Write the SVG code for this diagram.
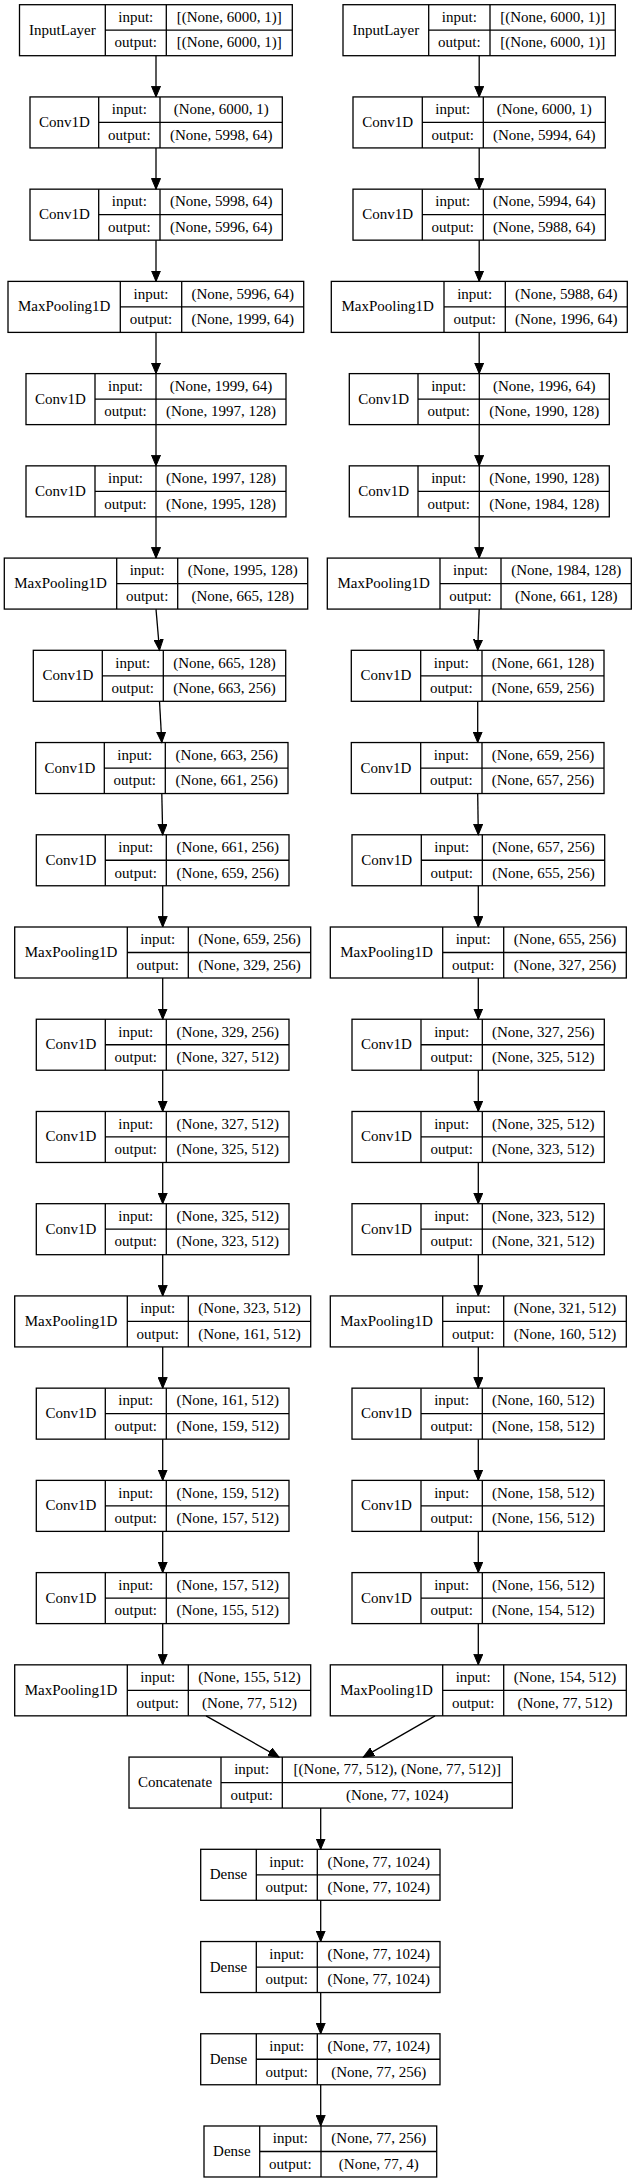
<svg xmlns="http://www.w3.org/2000/svg" width="636" height="2182" viewBox="0 0 636 2182">
<style>
.b{fill:#fff;stroke:#000;stroke-width:1.3}
.s{fill:none;stroke:#000;stroke-width:1.3}
.t{font-family:"Liberation Serif","Times New Roman",serif;font-size:15px;text-anchor:middle;fill:#000}
.e{fill:none;stroke:#000;stroke-width:1.3;marker-end:url(#ah)}
</style>
<defs>
<marker id="ah" markerUnits="userSpaceOnUse" markerWidth="12" markerHeight="10" viewBox="0 -5 12 10" refX="10.7" refY="0" orient="auto">
<path d="M0,-4.5L10.7,0L0,4.5Z" fill="#000" stroke="#000" stroke-width="1"/>
</marker>
</defs>
<rect width="636" height="2182" fill="#fff"/>

<!-- Left column -->
<g id="L0" transform="translate(0,4.7)"><rect class="b" x="19.5" y="0" width="272.8" height="51"/><path class="s" d="M105.3,0V51M166.3,0V51M105.3,25.5H292.3"/><text class="t" x="62.4" y="30">InputLayer</text><text class="t" x="135.8" y="17.3">input:</text><text class="t" x="135.8" y="42.8">output:</text><text class="t" x="229.3" y="17.3">[(None, 6000, 1)]</text><text class="t" x="229.3" y="42.8">[(None, 6000, 1)]</text></g>
<g id="L1" transform="translate(0,96.93)"><rect class="b" x="30" y="0" width="252.3" height="51"/><path class="s" d="M98.7,0V51M160,0V51M98.7,25.5H282.3"/><text class="t" x="64.35" y="30">Conv1D</text><text class="t" x="129.35" y="17.3">input:</text><text class="t" x="129.35" y="42.8">output:</text><text class="t" x="221.15" y="17.3">(None, 6000, 1)</text><text class="t" x="221.15" y="42.8">(None, 5998, 64)</text></g>
<g id="L2" transform="translate(0,189.16)"><rect class="b" x="30" y="0" width="252.3" height="51"/><path class="s" d="M98.7,0V51M160,0V51M98.7,25.5H282.3"/><text class="t" x="64.35" y="30">Conv1D</text><text class="t" x="129.35" y="17.3">input:</text><text class="t" x="129.35" y="42.8">output:</text><text class="t" x="221.15" y="17.3">(None, 5998, 64)</text><text class="t" x="221.15" y="42.8">(None, 5996, 64)</text></g>
<g id="L3" transform="translate(0,281.39)"><rect class="b" x="8" y="0" width="295.7" height="51"/><path class="s" d="M120.3,0V51M181.7,0V51M120.3,25.5H303.7"/><text class="t" x="64.15" y="30">MaxPooling1D</text><text class="t" x="151" y="17.3">input:</text><text class="t" x="151" y="42.8">output:</text><text class="t" x="242.7" y="17.3">(None, 5996, 64)</text><text class="t" x="242.7" y="42.8">(None, 1999, 64)</text></g>
<g id="L4" transform="translate(0,373.62)"><rect class="b" x="26" y="0" width="260" height="51"/><path class="s" d="M95,0V51M156,0V51M95,25.5H286"/><text class="t" x="60.5" y="30">Conv1D</text><text class="t" x="125.5" y="17.3">input:</text><text class="t" x="125.5" y="42.8">output:</text><text class="t" x="221" y="17.3">(None, 1999, 64)</text><text class="t" x="221" y="42.8">(None, 1997, 128)</text></g>
<g id="L5" transform="translate(0,465.85)"><rect class="b" x="26" y="0" width="260" height="51"/><path class="s" d="M95,0V51M156,0V51M95,25.5H286"/><text class="t" x="60.5" y="30">Conv1D</text><text class="t" x="125.5" y="17.3">input:</text><text class="t" x="125.5" y="42.8">output:</text><text class="t" x="221" y="17.3">(None, 1997, 128)</text><text class="t" x="221" y="42.8">(None, 1995, 128)</text></g>
<g id="L6" transform="translate(0,558.08)"><rect class="b" x="4.3" y="0" width="303.4" height="51"/><path class="s" d="M116.7,0V51M177.7,0V51M116.7,25.5H307.7"/><text class="t" x="60.5" y="30">MaxPooling1D</text><text class="t" x="147.2" y="17.3">input:</text><text class="t" x="147.2" y="42.8">output:</text><text class="t" x="242.7" y="17.3">(None, 1995, 128)</text><text class="t" x="242.7" y="42.8">(None, 665, 128)</text></g>
<g id="L7" transform="translate(0,650.31)"><rect class="b" x="33.3" y="0" width="252.4" height="51"/><path class="s" d="M102.3,0V51M163.3,0V51M102.3,25.5H285.7"/><text class="t" x="67.8" y="30">Conv1D</text><text class="t" x="132.8" y="17.3">input:</text><text class="t" x="132.8" y="42.8">output:</text><text class="t" x="224.5" y="17.3">(None, 665, 128)</text><text class="t" x="224.5" y="42.8">(None, 663, 256)</text></g>
<g id="L8" transform="translate(0,742.54)"><rect class="b" x="35.7" y="0" width="252.3" height="51"/><path class="s" d="M104.3,0V51M165.3,0V51M104.3,25.5H288"/><text class="t" x="70" y="30">Conv1D</text><text class="t" x="134.8" y="17.3">input:</text><text class="t" x="134.8" y="42.8">output:</text><text class="t" x="226.65" y="17.3">(None, 663, 256)</text><text class="t" x="226.65" y="42.8">(None, 661, 256)</text></g>
<g id="L9" transform="translate(0,834.77)"><rect class="b" x="36.3" y="0" width="252.7" height="51"/><path class="s" d="M105.3,0V51M166.3,0V51M105.3,25.5H289"/><text class="t" x="70.8" y="30">Conv1D</text><text class="t" x="135.8" y="17.3">input:</text><text class="t" x="135.8" y="42.8">output:</text><text class="t" x="227.65" y="17.3">(None, 661, 256)</text><text class="t" x="227.65" y="42.8">(None, 659, 256)</text></g>
<g id="L10" transform="translate(0,927)"><rect class="b" x="14.7" y="0" width="296" height="51"/><path class="s" d="M127.3,0V51M188.3,0V51M127.3,25.5H310.7"/><text class="t" x="71" y="30">MaxPooling1D</text><text class="t" x="157.8" y="17.3">input:</text><text class="t" x="157.8" y="42.8">output:</text><text class="t" x="249.5" y="17.3">(None, 659, 256)</text><text class="t" x="249.5" y="42.8">(None, 329, 256)</text></g>
<g id="L11" transform="translate(0,1019.23)"><rect class="b" x="36.3" y="0" width="252.7" height="51"/><path class="s" d="M105.3,0V51M166.3,0V51M105.3,25.5H289"/><text class="t" x="70.8" y="30">Conv1D</text><text class="t" x="135.8" y="17.3">input:</text><text class="t" x="135.8" y="42.8">output:</text><text class="t" x="227.65" y="17.3">(None, 329, 256)</text><text class="t" x="227.65" y="42.8">(None, 327, 512)</text></g>
<g id="L12" transform="translate(0,1111.46)"><rect class="b" x="36.3" y="0" width="252.7" height="51"/><path class="s" d="M105.3,0V51M166.3,0V51M105.3,25.5H289"/><text class="t" x="70.8" y="30">Conv1D</text><text class="t" x="135.8" y="17.3">input:</text><text class="t" x="135.8" y="42.8">output:</text><text class="t" x="227.65" y="17.3">(None, 327, 512)</text><text class="t" x="227.65" y="42.8">(None, 325, 512)</text></g>
<g id="L13" transform="translate(0,1203.69)"><rect class="b" x="36.3" y="0" width="252.7" height="51"/><path class="s" d="M105.3,0V51M166.3,0V51M105.3,25.5H289"/><text class="t" x="70.8" y="30">Conv1D</text><text class="t" x="135.8" y="17.3">input:</text><text class="t" x="135.8" y="42.8">output:</text><text class="t" x="227.65" y="17.3">(None, 325, 512)</text><text class="t" x="227.65" y="42.8">(None, 323, 512)</text></g>
<g id="L14" transform="translate(0,1295.92)"><rect class="b" x="14.7" y="0" width="296" height="51"/><path class="s" d="M127.3,0V51M188.3,0V51M127.3,25.5H310.7"/><text class="t" x="71" y="30">MaxPooling1D</text><text class="t" x="157.8" y="17.3">input:</text><text class="t" x="157.8" y="42.8">output:</text><text class="t" x="249.5" y="17.3">(None, 323, 512)</text><text class="t" x="249.5" y="42.8">(None, 161, 512)</text></g>
<g id="L15" transform="translate(0,1388.15)"><rect class="b" x="36.3" y="0" width="252.7" height="51"/><path class="s" d="M105.3,0V51M166.3,0V51M105.3,25.5H289"/><text class="t" x="70.8" y="30">Conv1D</text><text class="t" x="135.8" y="17.3">input:</text><text class="t" x="135.8" y="42.8">output:</text><text class="t" x="227.65" y="17.3">(None, 161, 512)</text><text class="t" x="227.65" y="42.8">(None, 159, 512)</text></g>
<g id="L16" transform="translate(0,1480.38)"><rect class="b" x="36.3" y="0" width="252.7" height="51"/><path class="s" d="M105.3,0V51M166.3,0V51M105.3,25.5H289"/><text class="t" x="70.8" y="30">Conv1D</text><text class="t" x="135.8" y="17.3">input:</text><text class="t" x="135.8" y="42.8">output:</text><text class="t" x="227.65" y="17.3">(None, 159, 512)</text><text class="t" x="227.65" y="42.8">(None, 157, 512)</text></g>
<g id="L17" transform="translate(0,1572.61)"><rect class="b" x="36.3" y="0" width="252.7" height="51"/><path class="s" d="M105.3,0V51M166.3,0V51M105.3,25.5H289"/><text class="t" x="70.8" y="30">Conv1D</text><text class="t" x="135.8" y="17.3">input:</text><text class="t" x="135.8" y="42.8">output:</text><text class="t" x="227.65" y="17.3">(None, 157, 512)</text><text class="t" x="227.65" y="42.8">(None, 155, 512)</text></g>
<g id="L18" transform="translate(0,1664.84)"><rect class="b" x="14.7" y="0" width="296" height="51"/><path class="s" d="M127.3,0V51M188.3,0V51M127.3,25.5H310.7"/><text class="t" x="71" y="30">MaxPooling1D</text><text class="t" x="157.8" y="17.3">input:</text><text class="t" x="157.8" y="42.8">output:</text><text class="t" x="249.5" y="17.3">(None, 155, 512)</text><text class="t" x="249.5" y="42.8">(None, 77, 512)</text></g>

<!-- Right column -->
<g id="R0" transform="translate(0,4.7)"><rect class="b" x="343" y="0" width="272.3" height="51"/><path class="s" d="M428.7,0V51M490,0V51M428.7,25.5H615.3"/><text class="t" x="385.85" y="30">InputLayer</text><text class="t" x="459.35" y="17.3">input:</text><text class="t" x="459.35" y="42.8">output:</text><text class="t" x="552.65" y="17.3">[(None, 6000, 1)]</text><text class="t" x="552.65" y="42.8">[(None, 6000, 1)]</text></g>
<g id="R1" transform="translate(0,96.93)"><rect class="b" x="353" y="0" width="252.3" height="51"/><path class="s" d="M422.3,0V51M483.3,0V51M422.3,25.5H605.3"/><text class="t" x="387.65" y="30">Conv1D</text><text class="t" x="452.8" y="17.3">input:</text><text class="t" x="452.8" y="42.8">output:</text><text class="t" x="544.3" y="17.3">(None, 6000, 1)</text><text class="t" x="544.3" y="42.8">(None, 5994, 64)</text></g>
<g id="R2" transform="translate(0,189.16)"><rect class="b" x="353" y="0" width="252.3" height="51"/><path class="s" d="M422.3,0V51M483.3,0V51M422.3,25.5H605.3"/><text class="t" x="387.65" y="30">Conv1D</text><text class="t" x="452.8" y="17.3">input:</text><text class="t" x="452.8" y="42.8">output:</text><text class="t" x="544.3" y="17.3">(None, 5994, 64)</text><text class="t" x="544.3" y="42.8">(None, 5988, 64)</text></g>
<g id="R3" transform="translate(0,281.39)"><rect class="b" x="331.3" y="0" width="296" height="51"/><path class="s" d="M444,0V51M505.3,0V51M444,25.5H627.3"/><text class="t" x="387.65" y="30">MaxPooling1D</text><text class="t" x="474.65" y="17.3">input:</text><text class="t" x="474.65" y="42.8">output:</text><text class="t" x="566.3" y="17.3">(None, 5988, 64)</text><text class="t" x="566.3" y="42.8">(None, 1996, 64)</text></g>
<g id="R4" transform="translate(0,373.62)"><rect class="b" x="349.3" y="0" width="260" height="51"/><path class="s" d="M418,0V51M479.3,0V51M418,25.5H609.3"/><text class="t" x="383.65" y="30">Conv1D</text><text class="t" x="448.65" y="17.3">input:</text><text class="t" x="448.65" y="42.8">output:</text><text class="t" x="544.3" y="17.3">(None, 1996, 64)</text><text class="t" x="544.3" y="42.8">(None, 1990, 128)</text></g>
<g id="R5" transform="translate(0,465.85)"><rect class="b" x="349.3" y="0" width="260" height="51"/><path class="s" d="M418,0V51M479.3,0V51M418,25.5H609.3"/><text class="t" x="383.65" y="30">Conv1D</text><text class="t" x="448.65" y="17.3">input:</text><text class="t" x="448.65" y="42.8">output:</text><text class="t" x="544.3" y="17.3">(None, 1990, 128)</text><text class="t" x="544.3" y="42.8">(None, 1984, 128)</text></g>
<g id="R6" transform="translate(0,558.08)"><rect class="b" x="327.3" y="0" width="304" height="51"/><path class="s" d="M440,0V51M501,0V51M440,25.5H631.3"/><text class="t" x="383.65" y="30">MaxPooling1D</text><text class="t" x="470.5" y="17.3">input:</text><text class="t" x="470.5" y="42.8">output:</text><text class="t" x="566.15" y="17.3">(None, 1984, 128)</text><text class="t" x="566.15" y="42.8">(None, 661, 128)</text></g>
<g id="R7" transform="translate(0,650.31)"><rect class="b" x="351.3" y="0" width="252.7" height="51"/><path class="s" d="M420.7,0V51M482,0V51M420.7,25.5H604"/><text class="t" x="386" y="30">Conv1D</text><text class="t" x="451.35" y="17.3">input:</text><text class="t" x="451.35" y="42.8">output:</text><text class="t" x="543" y="17.3">(None, 661, 128)</text><text class="t" x="543" y="42.8">(None, 659, 256)</text></g>
<g id="R8" transform="translate(0,742.54)"><rect class="b" x="351.3" y="0" width="252.7" height="51"/><path class="s" d="M420.7,0V51M482,0V51M420.7,25.5H604"/><text class="t" x="386" y="30">Conv1D</text><text class="t" x="451.35" y="17.3">input:</text><text class="t" x="451.35" y="42.8">output:</text><text class="t" x="543" y="17.3">(None, 659, 256)</text><text class="t" x="543" y="42.8">(None, 657, 256)</text></g>
<g id="R9" transform="translate(0,834.77)"><rect class="b" x="352" y="0" width="252.7" height="51"/><path class="s" d="M421.3,0V51M482.3,0V51M421.3,25.5H604.7"/><text class="t" x="386.65" y="30">Conv1D</text><text class="t" x="451.8" y="17.3">input:</text><text class="t" x="451.8" y="42.8">output:</text><text class="t" x="543.5" y="17.3">(None, 657, 256)</text><text class="t" x="543.5" y="42.8">(None, 655, 256)</text></g>
<g id="R10" transform="translate(0,927)"><rect class="b" x="330.3" y="0" width="296" height="51"/><path class="s" d="M442.7,0V51M503.7,0V51M442.7,25.5H626.3"/><text class="t" x="386.5" y="30">MaxPooling1D</text><text class="t" x="473.2" y="17.3">input:</text><text class="t" x="473.2" y="42.8">output:</text><text class="t" x="565" y="17.3">(None, 655, 256)</text><text class="t" x="565" y="42.8">(None, 327, 256)</text></g>
<g id="R11" transform="translate(0,1019.23)"><rect class="b" x="352" y="0" width="252.3" height="51"/><path class="s" d="M421,0V51M482.3,0V51M421,25.5H604.3"/><text class="t" x="386.5" y="30">Conv1D</text><text class="t" x="451.65" y="17.3">input:</text><text class="t" x="451.65" y="42.8">output:</text><text class="t" x="543.3" y="17.3">(None, 327, 256)</text><text class="t" x="543.3" y="42.8">(None, 325, 512)</text></g>
<g id="R12" transform="translate(0,1111.46)"><rect class="b" x="352" y="0" width="252.3" height="51"/><path class="s" d="M421,0V51M482.3,0V51M421,25.5H604.3"/><text class="t" x="386.5" y="30">Conv1D</text><text class="t" x="451.65" y="17.3">input:</text><text class="t" x="451.65" y="42.8">output:</text><text class="t" x="543.3" y="17.3">(None, 325, 512)</text><text class="t" x="543.3" y="42.8">(None, 323, 512)</text></g>
<g id="R13" transform="translate(0,1203.69)"><rect class="b" x="352" y="0" width="252.3" height="51"/><path class="s" d="M421,0V51M482.3,0V51M421,25.5H604.3"/><text class="t" x="386.5" y="30">Conv1D</text><text class="t" x="451.65" y="17.3">input:</text><text class="t" x="451.65" y="42.8">output:</text><text class="t" x="543.3" y="17.3">(None, 323, 512)</text><text class="t" x="543.3" y="42.8">(None, 321, 512)</text></g>
<g id="R14" transform="translate(0,1295.92)"><rect class="b" x="330.3" y="0" width="296" height="51"/><path class="s" d="M442.7,0V51M503.7,0V51M442.7,25.5H626.3"/><text class="t" x="386.5" y="30">MaxPooling1D</text><text class="t" x="473.2" y="17.3">input:</text><text class="t" x="473.2" y="42.8">output:</text><text class="t" x="565" y="17.3">(None, 321, 512)</text><text class="t" x="565" y="42.8">(None, 160, 512)</text></g>
<g id="R15" transform="translate(0,1388.15)"><rect class="b" x="352" y="0" width="252.3" height="51"/><path class="s" d="M421,0V51M482.3,0V51M421,25.5H604.3"/><text class="t" x="386.5" y="30">Conv1D</text><text class="t" x="451.65" y="17.3">input:</text><text class="t" x="451.65" y="42.8">output:</text><text class="t" x="543.3" y="17.3">(None, 160, 512)</text><text class="t" x="543.3" y="42.8">(None, 158, 512)</text></g>
<g id="R16" transform="translate(0,1480.38)"><rect class="b" x="352" y="0" width="252.3" height="51"/><path class="s" d="M421,0V51M482.3,0V51M421,25.5H604.3"/><text class="t" x="386.5" y="30">Conv1D</text><text class="t" x="451.65" y="17.3">input:</text><text class="t" x="451.65" y="42.8">output:</text><text class="t" x="543.3" y="17.3">(None, 158, 512)</text><text class="t" x="543.3" y="42.8">(None, 156, 512)</text></g>
<g id="R17" transform="translate(0,1572.61)"><rect class="b" x="352" y="0" width="252.3" height="51"/><path class="s" d="M421,0V51M482.3,0V51M421,25.5H604.3"/><text class="t" x="386.5" y="30">Conv1D</text><text class="t" x="451.65" y="17.3">input:</text><text class="t" x="451.65" y="42.8">output:</text><text class="t" x="543.3" y="17.3">(None, 156, 512)</text><text class="t" x="543.3" y="42.8">(None, 154, 512)</text></g>
<g id="R18" transform="translate(0,1664.84)"><rect class="b" x="330.3" y="0" width="296" height="51"/><path class="s" d="M442.7,0V51M503.7,0V51M442.7,25.5H626.3"/><text class="t" x="386.5" y="30">MaxPooling1D</text><text class="t" x="473.2" y="17.3">input:</text><text class="t" x="473.2" y="42.8">output:</text><text class="t" x="565" y="17.3">(None, 154, 512)</text><text class="t" x="565" y="42.8">(None, 77, 512)</text></g>

<!-- Merge and head -->
<g id="C19" transform="translate(0,1757.07)"><rect class="b" x="129" y="0" width="383.3" height="51"/><path class="s" d="M221,0V51M282.3,0V51M221,25.5H512.3"/><text class="t" x="175" y="30">Concatenate</text><text class="t" x="251.65" y="17.3">input:</text><text class="t" x="251.65" y="42.8">output:</text><text class="t" x="397.3" y="17.3">[(None, 77, 512), (None, 77, 512)]</text><text class="t" x="397.3" y="42.8">(None, 77, 1024)</text></g>
<g id="D20" transform="translate(0,1849.3)"><rect class="b" x="200.7" y="0" width="239.3" height="51"/><path class="s" d="M256.3,0V51M317.3,0V51M256.3,25.5H440"/><text class="t" x="228.5" y="30">Dense</text><text class="t" x="286.8" y="17.3">input:</text><text class="t" x="286.8" y="42.8">output:</text><text class="t" x="378.65" y="17.3">(None, 77, 1024)</text><text class="t" x="378.65" y="42.8">(None, 77, 1024)</text></g>
<g id="D21" transform="translate(0,1941.53)"><rect class="b" x="200.7" y="0" width="239.3" height="51"/><path class="s" d="M256.3,0V51M317.3,0V51M256.3,25.5H440"/><text class="t" x="228.5" y="30">Dense</text><text class="t" x="286.8" y="17.3">input:</text><text class="t" x="286.8" y="42.8">output:</text><text class="t" x="378.65" y="17.3">(None, 77, 1024)</text><text class="t" x="378.65" y="42.8">(None, 77, 1024)</text></g>
<g id="D22" transform="translate(0,2033.76)"><rect class="b" x="200.7" y="0" width="239.3" height="51"/><path class="s" d="M256.3,0V51M317.3,0V51M256.3,25.5H440"/><text class="t" x="228.5" y="30">Dense</text><text class="t" x="286.8" y="17.3">input:</text><text class="t" x="286.8" y="42.8">output:</text><text class="t" x="378.65" y="17.3">(None, 77, 1024)</text><text class="t" x="378.65" y="42.8">(None, 77, 256)</text></g>
<g id="D23" transform="translate(0,2125.99)"><rect class="b" x="204" y="0" width="232.7" height="51"/><path class="s" d="M259.7,0V51M321,0V51M259.7,25.5H436.7"/><text class="t" x="231.85" y="30">Dense</text><text class="t" x="290.35" y="17.3">input:</text><text class="t" x="290.35" y="42.8">output:</text><text class="t" x="378.85" y="17.3">(None, 77, 256)</text><text class="t" x="378.85" y="42.8">(None, 77, 4)</text></g>

<g id="edges">
<line class="e" x1="156" y1="55.7" x2="156" y2="96.93"/>
<line class="e" x1="156" y1="147.93" x2="156" y2="189.16"/>
<line class="e" x1="156" y1="240.16" x2="156" y2="281.39"/>
<line class="e" x1="156" y1="332.39" x2="156" y2="373.62"/>
<line class="e" x1="156" y1="424.62" x2="156" y2="465.85"/>
<line class="e" x1="156" y1="516.85" x2="156" y2="558.08"/>
<line class="e" x1="156" y1="609.08" x2="159.5" y2="650.31"/>
<line class="e" x1="159.5" y1="701.31" x2="161.8" y2="742.54"/>
<line class="e" x1="161.8" y1="793.54" x2="162.7" y2="834.77"/>
<line class="e" x1="162.7" y1="885.77" x2="162.7" y2="927"/>
<line class="e" x1="162.7" y1="978" x2="162.7" y2="1019.23"/>
<line class="e" x1="162.7" y1="1070.23" x2="162.7" y2="1111.46"/>
<line class="e" x1="162.7" y1="1162.46" x2="162.7" y2="1203.69"/>
<line class="e" x1="162.7" y1="1254.69" x2="162.7" y2="1295.92"/>
<line class="e" x1="162.7" y1="1346.92" x2="162.7" y2="1388.15"/>
<line class="e" x1="162.7" y1="1439.15" x2="162.7" y2="1480.38"/>
<line class="e" x1="162.7" y1="1531.38" x2="162.7" y2="1572.61"/>
<line class="e" x1="162.7" y1="1623.61" x2="162.7" y2="1664.84"/>
<line class="e" x1="479.2" y1="55.7" x2="479.2" y2="96.93"/>
<line class="e" x1="479.2" y1="147.93" x2="479.2" y2="189.16"/>
<line class="e" x1="479.2" y1="240.16" x2="479.2" y2="281.39"/>
<line class="e" x1="479.2" y1="332.39" x2="479.2" y2="373.62"/>
<line class="e" x1="479.2" y1="424.62" x2="479.2" y2="465.85"/>
<line class="e" x1="479.2" y1="516.85" x2="479.2" y2="558.08"/>
<line class="e" x1="479.2" y1="609.08" x2="477.7" y2="650.31"/>
<line class="e" x1="477.7" y1="701.31" x2="477.7" y2="742.54"/>
<line class="e" x1="477.7" y1="793.54" x2="478.3" y2="834.77"/>
<line class="e" x1="478.3" y1="885.77" x2="478.3" y2="927"/>
<line class="e" x1="478.3" y1="978" x2="478.3" y2="1019.23"/>
<line class="e" x1="478.3" y1="1070.23" x2="478.3" y2="1111.46"/>
<line class="e" x1="478.3" y1="1162.46" x2="478.3" y2="1203.69"/>
<line class="e" x1="478.3" y1="1254.69" x2="478.3" y2="1295.92"/>
<line class="e" x1="478.3" y1="1346.92" x2="478.3" y2="1388.15"/>
<line class="e" x1="478.3" y1="1439.15" x2="478.3" y2="1480.38"/>
<line class="e" x1="478.3" y1="1531.38" x2="478.3" y2="1572.61"/>
<line class="e" x1="478.3" y1="1623.61" x2="478.3" y2="1664.84"/>
<line class="e" x1="206" y1="1715.84" x2="279" y2="1757.07"/>
<line class="e" x1="435" y1="1715.84" x2="363.3" y2="1757.07"/>
<line class="e" x1="320.7" y1="1808.07" x2="320.7" y2="1849.3"/>
<line class="e" x1="320.7" y1="1900.3" x2="320.7" y2="1941.53"/>
<line class="e" x1="320.7" y1="1992.53" x2="320.7" y2="2033.76"/>
<line class="e" x1="320.7" y1="2084.76" x2="320.7" y2="2125.99"/>
</g>
</svg>
